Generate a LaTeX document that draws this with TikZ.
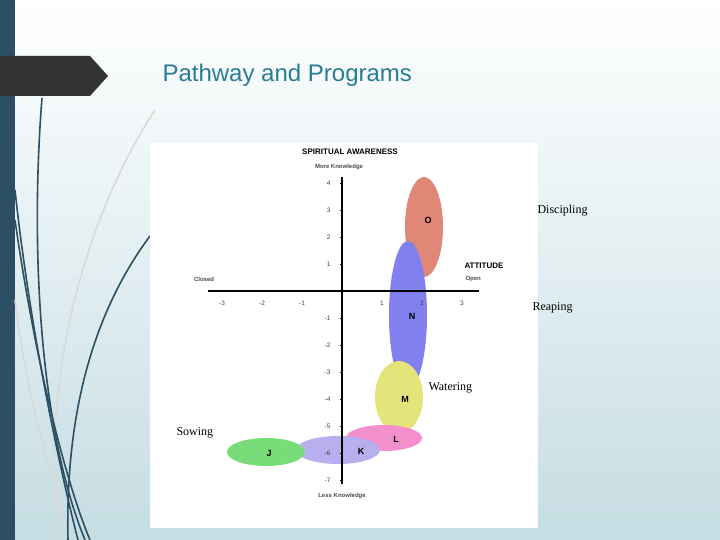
\documentclass[tikz,border=0pt]{standalone}
\usepackage{fontspec}
\setmainfont{Liberation Serif}
\newfontfamily\lsans{Liberation Sans}
\definecolor{navy}{RGB}{43,79,99}
\definecolor{banner}{RGB}{50,50,50}
\definecolor{ttl}{RGB}{40,125,150}
\definecolor{cO}{RGB}{224,136,120}
\definecolor{cN}{RGB}{128,128,238}
\definecolor{cM}{RGB}{228,228,122}
\definecolor{cL}{RGB}{244,143,205}
\definecolor{cK}{RGB}{184,176,238}
\definecolor{cJ}{RGB}{120,220,120}
\definecolor{bgb}{RGB}{197,221,227}
\begin{document}
\begin{tikzpicture}[x=1pt,y=-1pt,
  blob/.style={fill=#1,draw=none},
  tick/.style={font=\lsans\fontsize{6.5}{7}\selectfont,text=black!75},
  lab/.style={font=\lsans\bfseries\fontsize{9}{10}\selectfont},
  sm/.style={font=\lsans\bfseries\fontsize{6}{7}\selectfont,text=black!70},
  big/.style={font=\lsans\bfseries\fontsize{8}{9}\selectfont},
  captext/.style={font=\fontsize{12}{14}\selectfont,anchor=west},
  grass/.style={line width=1.6pt,draw=#1}]
\useasboundingbox (0,0) rectangle (720,540);
\shade[top color=white,bottom color=bgb] (0,0) rectangle (720,540);
\fill[navy] (0,0) rectangle (15,540);
% grass curves
\draw[grass=black!15] (155,110) .. controls (70,240) and (40,420) .. (60,540);
\draw[grass=black!15] (15,300) .. controls (30,420) and (55,480) .. (70,540);
\draw[grass=navy] (42,98) .. controls (30,250) and (40,430) .. (85,540);
\draw[grass=navy] (15,190) .. controls (30,330) and (60,470) .. (78,540);
\draw[grass=navy] (150,236) .. controls (95,310) and (65,410) .. (68,540);
\draw[grass=navy] (15,220) .. controls (35,360) and (65,480) .. (90,540);
% banner
\fill[banner] (0,56) -- (90,56) -- (108,76) -- (90,96) -- (0,96) -- cycle;
\node[anchor=west,font=\lsans\fontsize{24}{28}\selectfont,text=ttl] (title) at (159,75) {Pathway and Programs};
% chart panel
\fill[white] (150,143) rectangle (538,528);
\fill[blob=cO] (424,227) ellipse (19 and 50);
\fill[blob=cN] (408,315) ellipse (19 and 74);
\fill[blob=cM] (399,397) ellipse (24 and 36);
\fill[blob=cL] (384,438) ellipse (38 and 13);
\fill[blob=cK] (338,450) ellipse (42 and 14);
\fill[blob=cJ] (266,452) ellipse (39 and 14);
\node[lab] (o) at (428,220) {O};
\node[lab] (n) at (412,316) {N};
\node[lab] (m) at (405,399) {M};
\node[lab] (l) at (396,439) {L};
\node[lab] (k) at (361,451) {K};
\node[lab] (j) at (269,453) {J};
% axes
\draw[line width=1.6pt] (208,291) -- (479,291);
\draw[line width=1.6pt] (342,177) -- (342,484);
\foreach \v in {-3,-2,-1,1,2,3}
  \node[tick] at ({342+40*\v},303) {\v};
\foreach \v in {4,3,2,1,-1,-2,-3,-4,-5,-6,-7}{
  \draw[line width=0.5pt] (340,{291-27*\v}) -- (342,{291-27*\v});
  \node[tick,anchor=east] at (334,{291-27*\v}) {\v};}
\node[big] (sa) at (350,152) {SPIRITUAL AWARENESS};
\node[sm] (mk) at (339,167) {More Knowledge};
\node[sm] (lk) at (342,496) {Less Knowledge};
\node[sm] (cl) at (204,279) {Closed};
\node[big,anchor=west] (att) at (461,266) {ATTITUDE};
\node[sm,anchor=west] (op) at (462,279) {Open};
% captions
\node[captext] (d) at (534,211) {Discipling};
\node[captext] (r) at (529,308) {Reaping};
\node[captext] (w) at (425,388) {Watering};
\node[captext] (s) at (173,433) {Sowing};
\end{tikzpicture}
\end{document}
